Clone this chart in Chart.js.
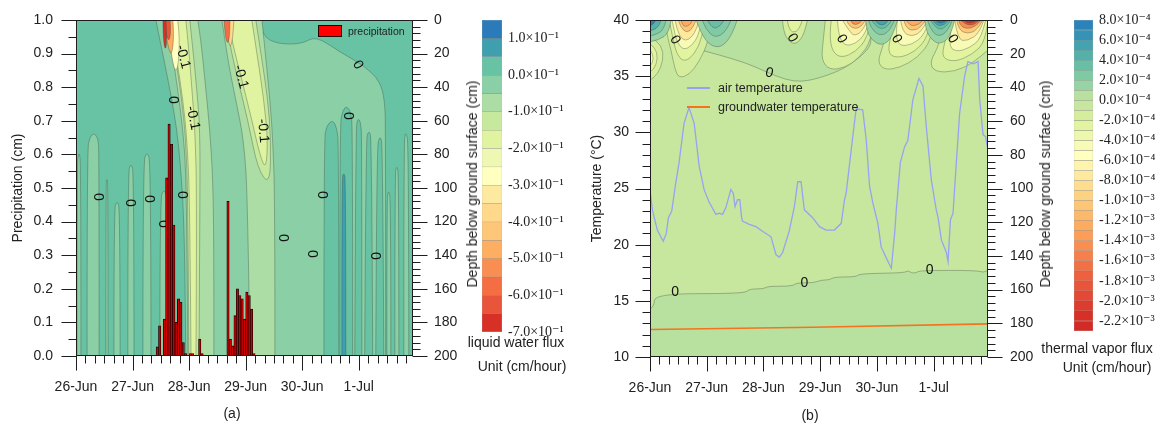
<!DOCTYPE html>
<html>
<head>
<meta charset="utf-8">
<title>Liquid water and thermal vapor flux</title>
<script src="https://cdn.jsdelivr.net/npm/chart.js@4.4.1/dist/chart.umd.min.js"></script>
<style>
  body { margin: 0; background: #fff; }
  #fig { position: relative; width: 1164px; height: 423px; overflow: hidden;
         font-family: 'Liberation Sans', Arial, sans-serif; color: #222; }
  #fig canvas { position: absolute; top: 0; }
  .t { position: absolute; white-space: nowrap; font-size: 14px; line-height: 16px;
       transform: translate(-50%, -50%); }
  .v { transform: translate(-50%, -50%) rotate(-90deg); }
  .key { position: absolute; }
  .lab { position: absolute; white-space: nowrap; line-height: 14px; transform: translateY(-50%); }
</style>
</head>
<body>
<div id="fig">
  <canvas id="panelA" width="470" height="423" style="left:0"></canvas>
  <canvas id="barA" width="110" height="423" style="left:470px"></canvas>
  <canvas id="panelB" width="460" height="423" style="left:580px"></canvas>
  <canvas id="barB" width="100" height="423" style="left:1064px"></canvas>

  <div class="t v" style="left:472px;top:184px">Depth below ground surface (cm)</div>
  <div class="t v" style="left:1045px;top:184px">Depth below ground surface (cm)</div>
  <div class="t" style="left:516px;top:342px">liquid water flux</div>
  <div class="t" style="left:522px;top:366px">Unit (cm/hour)</div>
  <div class="t" style="left:1097px;top:348px">thermal vapor flux</div>
  <div class="t" style="left:1107px;top:367px">Unit (cm/hour)</div>
  <div class="t" style="left:232px;top:413px">(a)</div>
  <div class="t" style="left:810px;top:415px">(b)</div>

  <div class="key" style="left:318px;top:25px;width:22px;height:10px;background:#f00;border:1px solid #2a0000"></div>
  <div class="lab" style="left:348px;top:31px;font-size:10.5px">precipitation</div>
  <div class="key" style="left:687px;top:87px;width:23px;height:1.5px;background:#97a3f2"></div>
  <div class="lab" style="left:718px;top:88px;font-size:12.5px">air temperature</div>
  <div class="key" style="left:687px;top:106px;width:23px;height:1.5px;background:#f5731c"></div>
  <div class="lab" style="left:718px;top:107px;font-size:12.5px">groundwater temperature</div>
</div>

<script>
  // ---- time axis (hours since 26-Jun 00:00) ----
  const dayLabels = ["26-Jun", "27-Jun", "28-Jun", "29-Jun", "30-Jun", "1-Jul"];

  // ---- hourly precipitation (cm) ----
  const rainHours = [34, 35, 37, 38, 39, 40, 41, 42, 43, 44, 45, 46, 48, 49, 52, 53,
                     64, 65, 66, 67, 68, 69, 70, 71, 72, 73, 74, 75];
  const rainDepth = [0.027, 0.09, 0.11, 0.53, 0.69, 0.63, 0.39, 0.10, 0.17, 0.16, 0.04, 0.007, 0.007, 0.007, 0.05, 0.007,
                     0.46, 0.05, 0.03, 0.12, 0.20, 0.18, 0.17, 0.11, 0.19, 0.18, 0.14, 0.007];

  // ---- air temperature (°C) ----
  const airHours = [0, 1.0, 3.1, 5.6, 6.9, 7.8, 9.2, 10.9, 12.3, 14.4, 16.5, 18.7, 20.8, 22.9, 25.0, 27.9,
    29.3, 30.7, 32.1, 34.2, 35.2, 36.0, 37.0, 38.0, 38.7, 39.1, 42.0, 44.8, 47.6, 51.2, 53.3, 54.7,
    56.1, 58.9, 61.1, 62.5, 63.9, 65.3, 68.8, 71.7, 74.5, 78.0, 80.9, 82.3, 83.0, 85.1, 87.2, 90.0,
    91.5, 92.9, 94.3, 96.4, 97.8, 100.0, 102.1, 103.5, 104.2, 105.9, 107.7, 109.1, 111.2, 113.8, 115.5,
    116.9, 119.0, 121.1, 121.8, 123.3, 125.4, 126.1, 127.1, 128.2, 129.6, 131.0, 133.1, 134.5, 136.7,
    138.8, 139.5, 140.9, 142.0, 143.0];
  const airTemp = [24.9, 23.1, 21.3, 20.3, 21.0, 22.4, 23.0, 25.5, 27.3, 30.8, 32.2, 30.8, 27.0, 24.9, 23.8, 22.7,
    22.8, 22.7, 23.3, 24.9, 24.6, 23.4, 24.0, 24.0, 22.5, 22.1, 21.8, 21.6, 21.2, 20.7, 19.1, 18.9,
    19.3, 21.2, 23.4, 25.6, 25.6, 23.1, 22.4, 21.6, 21.3, 21.3, 21.9, 24.0, 24.6, 28.4, 32.1, 32.0,
    29.3, 25.2, 23.7, 21.9, 19.8, 18.8, 17.9, 21.0, 23.1, 27.3, 28.7, 29.3, 32.9, 34.8, 34.1,
    30.5, 25.8, 23.1, 22.5, 20.4, 19.3, 18.5, 22.2, 22.8, 27.3, 31.7, 35.0, 36.3, 36.1,
    36.3, 32.9, 29.8, 29.6, 28.4];

  // ---- groundwater temperature (°C) ----
  const groundHours = [0, 69, 143];
  const groundTemp = [12.45, 12.65, 12.95];

  // ---- colour scales: lower bound of each band, top to bottom ----
  const fluxLevels = [0.1, 0.05, 0, -0.05, -0.1, -0.15, -0.2, -0.25, -0.3, -0.35, -0.4, -0.45, -0.5, -0.55, -0.6, -0.65, -0.7];
  const fluxTicks = [0.1, 0, -0.1, -0.2, -0.3, -0.4, -0.5, -0.6, -0.7];
  const vaporLevels = [7e-4, 6e-4, 5e-4, 4e-4, 3e-4, 2e-4, 1e-4, 0,
    -1e-4, -2e-4, -3e-4, -4e-4, -5e-4, -6e-4, -7e-4, -8e-4, -9e-4, -10e-4, -11e-4, -12e-4,
    -13e-4, -14e-4, -15e-4, -16e-4, -17e-4, -18e-4, -19e-4, -20e-4, -21e-4, -22e-4, -23e-4];
  const vaporTicks = [8e-4, 6e-4, 4e-4, 2e-4, 0, -2e-4, -4e-4, -6e-4, -8e-4,
    -1.0e-3, -1.2e-3, -1.4e-3, -1.6e-3, -1.8e-3, -2.0e-3, -2.2e-3];

  // liquid water flux bands: [flux level, outline as [hour, depth cm]]
  const fluxBands = [
    [-0.05, [[33.9,0],[78.0,0],[78.9,9.5],[85.6,14.3],[95.8,14.3],[101.8,9.5],[111.9,19.0],[122.5,27.4],[128.9,36.3],[131.0,47.6],[131.4,65.5],[131.4,200],[46.6,200],[46.2,142.8],[45.4,107.1],[44.1,83.3],[42.8,65.5],[40.7,47.6],[38.2,29.8],[35.6,11.9]]],
    [0, [[105.2,200],[105.2,71.4],[106.4,62.5],[109.0,59.5],[110.7,64.3],[111.5,74.4],[111.5,200]]],
    [0, [[111.9,200],[111.9,62.5],[113.2,53.6],[114.9,51.2],[116.6,54.7],[117.4,65.5],[117.4,200]]],
    [0, [[118.3,200],[118.7,65.5],[119.6,58.3],[120.8,60.7],[121.3,71.4],[121.3,200]]],
    [0, [[122.5,200],[123.0,71.4],[124.2,65.5],[125.5,70.2],[125.9,200]]],
    [0, [[127.2,200],[127.6,77.4],[128.9,68.4],[130.2,74.4],[130.6,200]]],
    [0.05, [[112.8,200],[112.8,95.2],[113.6,90.4],[114.5,95.2],[114.5,200]]],
    [-0.05, [[0.4,200],[0.4,86.9],[1.3,77.4],[2.1,86.9],[2.1,200]]],
    [-0.05, [[4.7,200],[4.7,77.4],[5.9,69.6],[7.6,67.2],[9.3,70.2],[9.8,77.4],[9.8,200]]],
    [-0.05, [[12.7,200],[12.7,98.2],[13.1,94.0],[13.6,98.2],[13.6,200]]],
    [-0.05, [[16.1,200],[16.1,113.1],[17.4,107.1],[18.7,113.1],[18.7,200]]],
    [-0.05, [[22.0,200],[22.0,92.2],[23.3,84.5],[24.6,92.2],[24.6,200]]],
    [-0.05, [[28.4,200],[28.4,86.3],[30.1,77.4],[31.8,86.3],[31.8,200]]],
    [-0.05, [[35.6,200],[35.6,107.1],[37.3,100.0],[39.0,107.1],[39.0,200]]],
    [-0.05, [[131.9,200],[131.9,107.0],[132.6,101.0],[133.6,107.0],[133.6,200]]],
    [-0.05, [[135.3,200],[135.3,92.2],[136.1,86.3],[137.0,92.2],[137.0,200]]],
    [-0.05, [[139.1,200],[139.1,74.4],[139.9,65.5],[141.2,74.4],[141.2,200]]],
    // first infiltration front
    [-0.1, [[38.2,0],[51.7,0],[53.0,11.9],[54.7,35.7],[56.8,65.5],[58.1,95.2],[58.5,136.9],[58.5,200],[47.5,200],[47.1,136.9],[46.6,89.3],[45.4,65.5],[43.2,41.7],[40.7,17.9]]],
    [-0.15, [[39.0,0],[48.3,0],[49.6,17.9],[51.3,41.7],[52.6,65.5],[52.6,107.1],[52.2,200],[47.9,200],[47.5,107.1],[46.6,71.4],[44.9,47.6],[42.4,23.8],[39.9,8.9]]],
    [-0.2, [[39.9,0],[46.6,0],[47.9,17.9],[49.2,41.7],[50.5,65.5],[51.3,107.1],[50.9,200],[48.8,200],[48.3,107.1],[47.1,71.4],[45.4,47.6],[42.8,23.8],[40.7,8.9]]],
    [-0.3, [[38.2,0],[43.2,0],[44.1,11.9],[43.2,29.8],[41.6,29.8],[39.9,14.9],[38.6,6.0]]],
    [-0.5, [[37.7,0],[41.1,0],[41.6,8.9],[40.7,20.8],[39.4,17.9],[38.2,8.9]]],
    [-0.65, [[37.3,0],[39.9,0],[40.3,7.1],[39.4,13.1],[38.2,8.3]]],
    [-0.7, [[36.9,0],[38.2,0],[38.6,14.9],[37.7,17.9],[36.9,8.9]]],
    // second infiltration front
    [-0.1, [[61.9,0],[78.9,0],[80.6,23.8],[82.3,47.6],[83.5,71.4],[84.4,107.1],[84.4,200],[73.8,200],[72.9,107.1],[71.2,71.4],[67.8,47.6],[64.4,23.8]]],
    [-0.15, [[63.6,0],[76.3,0],[78.9,23.8],[81.4,47.6],[82.7,71.4],[82.3,98.2],[77.2,89.3],[72.9,59.5],[68.7,35.7],[65.3,14.9]]],
    [-0.2, [[64.4,0],[74.6,0],[77.2,23.8],[79.7,47.6],[81.4,71.4],[80.6,89.3],[78.0,80.3],[74.6,59.5],[70.4,35.7],[66.6,14.9]]],
    [-0.4, [[63.6,0],[67.0,0],[66.6,11.9],[64.9,17.9]]],
    [-0.6, [[62.8,0],[65.3,0],[65.3,8.9],[64.4,14.9],[63.2,8.9]]],
  ];

  // thermal vapor flux bands: [flux level, outline as [hour, depth cm]]
  const vaporBands = [
    [0, [[16.5,0],[92.9,0],[93.7,11.9],[92.9,16.0],[89.9,20.7],[84.4,26.7],[78.9,30.8],[71.7,34.4],[64.4,36.7],[57.7,35.6],[49.2,30.8],[40.7,25.5],[29.3,20.7],[16.5,16.0]]],
    [0, [[0,171.4],[1.7,170.3],[2.1,162.4],[39.9,162.4],[42.0,159.6],[48.3,159.6],[49.7,158.0],[60.3,158.0],[61.8,156.0],[69.5,156.0],[72.4,154.3],[75.9,154.3],[78.0,152.5],[87.2,152.5],[88.6,150.5],[107.7,150.1],[109.1,148.6],[110.5,150.1],[112.7,150.1],[114.1,148.6],[138.8,148.6],[140.9,150.1],[143,148.6],[143,200],[0,200]]],
    [-2e-4, [[0,10.7],[3.0,11.9],[5.9,19.0],[4.7,28.4],[1.7,34.4],[0,35.6]]],
    [-3e-4, [[0,14.2],[2.1,16.0],[3.4,22.5],[1.7,29.6],[0,30.8]]],
    [-5e-4, [[0,17.8],[1.3,20.1],[1.3,25.5],[0,27.3]]],
    [-2e-4, [[6.4,0],[25.9,0],[25.0,11.9],[20.8,24.9],[16.5,32.6],[12.3,34.4],[10.6,29.6],[8.9,17.8],[7.2,8.9]]],
    [-3e-4, [[8.1,0],[23.3,0],[22.0,10.7],[18.7,20.7],[14.4,24.9],[11.4,20.7],[9.8,11.9]]],
    [-5e-4, [[9.3,0],[22.0,0],[20.8,8.3],[17.8,15.4],[14.0,17.8],[11.4,13.0],[10.2,5.9]]],
    [-8e-4, [[10.6,0],[20.8,0],[19.5,6.5],[16.5,11.9],[13.6,11.9],[11.4,5.9]]],
    [-11e-4, [[11.9,0],[19.5,0],[18.2,4.7],[15.7,7.7],[13.1,4.7]]],
    [-13e-4, [[13.1,0],[18.2,0],[17.0,3.0],[14.8,4.1],[13.6,2.4]]],
    [-2e-4, [[56.0,0],[66.6,0],[65.3,8.9],[61.5,14.8],[58.1,11.9],[56.4,5.9]]],
    [-3e-4, [[58.1,0],[64.4,0],[63.2,5.9],[60.2,7.7],[58.5,4.1]]],
    [-2e-4, [[74.2,0],[95.0,0],[93.7,11.9],[88.6,22.5],[82.3,28.4],[75.9,29.6],[72.5,23.7],[73.3,11.9]]],
    [-3e-4, [[76.7,0],[93.7,0],[92.0,10.7],[86.9,19.0],[81.0,22.5],[77.2,19.0],[75.9,8.9]]],
    [-5e-4, [[79.3,0],[92.9,0],[91.2,8.3],[86.9,14.2],[82.3,15.4],[79.7,8.9]]],
    [-8e-4, [[81.4,0],[92.0,0],[90.3,5.9],[86.9,9.5],[84.8,7.7]]],
    [-11e-4, [[83.1,0],[91.2,0],[89.5,4.1],[86.5,5.3],[83.9,3.0]]],
    [-15e-4, [[84.8,0],[89.9,0],[88.6,2.4],[85.6,3.0]]],
    [-2e-4, [[101.3,0],[120.4,0],[119.1,11.9],[113.2,22.5],[105.5,28.4],[99.2,29.6],[96.2,24.9],[98.8,14.8]]],
    [-3e-4, [[103.5,0],[119.1,0],[117.4,10.7],[111.9,19.0],[105.5,22.5],[100.9,20.7],[101.3,11.9]]],
    [-5e-4, [[104.7,0],[118.3,0],[116.2,8.9],[110.7,14.8],[105.5,15.4],[103.9,8.9]]],
    [-8e-4, [[106.0,0],[117.4,0],[115.3,6.5],[110.7,10.1],[106.8,7.1]]],
    [-11e-4, [[107.3,0],[116.6,0],[114.5,4.7],[110.7,6.5],[108.1,4.1]]],
    [-13e-4, [[108.5,0],[115.8,0],[113.6,3.0],[109.8,3.6]]],
    [-2e-4, [[124.7,0],[143,0],[143,17.8],[137.4,24.9],[128.9,30.8],[120.4,30.8],[118.3,24.9],[122.5,14.8]]],
    [-3e-4, [[126.8,0],[143,0],[142.0,13.0],[136.1,20.7],[128.9,24.9],[123.4,22.5],[124.7,13.0]]],
    [-5e-4, [[128.0,0],[142.0,0],[140.3,10.7],[135.3,16.6],[129.4,19.0],[126.0,14.8]]],
    [-8e-4, [[128.9,0],[141.2,0],[139.5,7.7],[134.4,12.4],[130.2,11.9]]],
    [-11e-4, [[129.7,0],[140.8,0],[138.6,5.9],[134.4,8.3],[130.6,5.9]]],
    [-15e-4, [[130.6,0],[140.3,0],[137.8,4.1],[133.6,5.3],[131.0,3.0]]],
    [-19e-4, [[131.4,0],[139.5,0],[137.4,3.0],[133.6,3.0]]],
    [-22e-4, [[132.7,0],[138.6,0],[136.5,1.8],[134.0,1.8]]],
    [1e-4, [[0,0],[8.9,0],[8.1,7.7],[3.8,11.9],[0,13.0]]],
    [2e-4, [[0,0],[6.8,0],[5.9,5.9],[2.1,8.9],[0,9.5]]],
    [4e-4, [[0,0],[4.7,0],[3.8,4.1],[1.3,5.9],[0,6.5]]],
    [7e-4, [[0,0],[2.5,0],[1.7,2.4],[0,3.6]]],
    [1e-4, [[19.5,0],[36.9,0],[34.8,8.9],[30.1,16.6],[25.0,14.8],[21.6,7.7]]],
    [2e-4, [[22.0,0],[34.3,0],[32.2,7.1],[27.6,10.7],[23.7,5.9]]],
    [3e-4, [[24.2,0],[31.4,0],[29.7,4.1],[26.3,5.3]]],
    [1e-4, [[91.2,0],[104.7,0],[102.6,10.7],[98.0,15.4],[93.7,11.9],[91.6,5.9]]],
    [2e-4, [[92.4,0],[103.5,0],[101.3,7.1],[97.1,9.5],[93.3,4.7]]],
    [3e-4, [[93.7,0],[102.2,0],[100.5,4.7],[96.2,5.3]]],
    [5e-4, [[95.0,0],[100.9,0],[99.6,3.0],[96.7,3.0]]],
    [1e-4, [[116.2,0],[128.9,0],[127.2,10.1],[122.5,14.8],[118.3,10.7],[116.6,4.7]]],
    [2e-4, [[117.4,0],[128.0,0],[125.9,7.1],[121.7,10.1],[118.3,4.7]]],
    [3e-4, [[118.7,0],[127.2,0],[125.1,4.7],[121.3,5.9]]],
    [5e-4, [[119.6,0],[126.4,0],[124.7,3.0],[121.3,3.6]]],
    [7e-4, [[120.8,0],[125.5,0],[124.2,1.8],[121.7,1.8]]],
  ];

  // contour labels: [hour, depth, text, rotation in degrees]
  const fluxLabels = [[45.4,22.0,"-0.1",75],[70.0,33.9,"-0.1",75],[41.1,47.6,"0",90],[49.6,58.3,"-0.1",78],
    [79.3,66.0,"-0.1",85],[119.6,26.8,"0",60],[115.3,57.1,"0",90],[9.3,105.3,"0",90],[22.9,108.9,"0",90],
    [31.0,106.5,"0",90],[36.9,121.4,"0",90],[44.9,104.1,"0",90],[104.3,104.1,"0",90],[87.8,129.7,"0",90],
    [100.1,139.2,"0",90],[126.8,140.4,"0",90]];
  const vaporLabels = [[10.6,11.9,"0",60],[60.2,10.7,"0",60],[81.0,11.3,"0",60],[104.3,11.3,"0",60],
    [128.0,11.3,"0",60],[50.5,31.4,"0",15],[10.6,161.8,"0",0],[65.3,155.9,"0",0],[118.3,148.2,"0",0]];

  const fluxColors = ["#2b7bba", "#3f9fae", "#68c3a4", "#8acfa5", "#abdda4", "#c7e99e", "#e0f3a0", "#eff8b3", "#ffffbf",
    "#fee9a0", "#fed98b", "#fdc678", "#fdae61", "#f98e52", "#f46d43", "#e8553b", "#d73027"];
  const vaporColors = ["#2b83ba", "#3793b5", "#45a2b0", "#56b0aa", "#69bea6", "#80c9a5", "#97d3a4", "#b8e1a0",
    "#c6e79d", "#d5ee9d", "#e3f4a0", "#eef8ac", "#f7fbb6", "#ffffbf", "#fff4ab", "#fee99c", "#fedd8e", "#fed283",
    "#fdc677", "#fdb96b", "#fdab60", "#fc9d58", "#f98e52", "#f67f4b", "#f37045", "#ed6040", "#e8553b", "#e24936",
    "#dc3d2f", "#d73027", "#d02b26"];

  const SANS = "'Liberation Sans', Arial, sans-serif";
  const SERIF = "'Liberation Serif', 'DejaVu Serif', serif";
  Chart.defaults.font.family = SANS;
  Chart.defaults.font.size = 14;
  Chart.defaults.color = "#222";

  const SUP = { "-": "\u207B", "1": "\u00B9", "3": "\u00B3", "4": "\u2074" };
  const sciLabel = (v, zeroExp) => {
    const exp = v === 0 ? zeroExp : Math.floor(Math.log10(Math.abs(v)) + 1e-9);
    const mant = (v / Math.pow(10, exp)).toFixed(1);
    return mant + "\u00D710" + String(exp).split("").map((c) => SUP[c]).join("");
  };

  // tick padding would otherwise push the plot area inwards
  const noLabelMargins = (s) => {
    s.paddingTop = 0; s.paddingBottom = 0; s.paddingLeft = 0; s.paddingRight = 0;
  };

  // closed outline, corners rounded except where it runs along the plot edge
  const tracePolygon = (ctx, P) => {
    const n = P.length;
    const mid = (p, q) => ({ x: (p.x + q.x) / 2, y: (p.y + q.y) / 2 });
    ctx.beginPath();
    const s = P.findIndex((p) => p.sharp);
    if (s < 0) {
      const m = mid(P[n - 1], P[0]);
      ctx.moveTo(m.x, m.y);
      for (let i = 0; i < n; i++) {
        const c = P[i], e = mid(c, P[(i + 1) % n]);
        ctx.quadraticCurveTo(c.x, c.y, e.x, e.y);
      }
    } else {
      ctx.moveTo(P[s].x, P[s].y);
      for (let k = 1; k <= n; k++) {
        const c = P[(s + k) % n], nx = P[(s + k + 1) % n];
        if (c.sharp) { ctx.lineTo(c.x, c.y); continue; }
        const e = nx.sharp ? nx : mid(c, nx);
        ctx.quadraticCurveTo(c.x, c.y, e.x, e.y);
      }
    }
    ctx.closePath();
  };

  // filled contour field drawn on the x / depth scales
  const contourLayer = (bands, baseLevel, levels, colors, step, labels) => {
    const colorOf = (lv) => colors[levels.findIndex((l) => Math.abs(l - lv) < step / 10)];
    return {
      id: "contourLayer",
      beforeDatasetsDraw(chart) {
        const { ctx, chartArea: a, scales: { x, depth } } = chart;
        ctx.save();
        ctx.beginPath();
        ctx.rect(a.left, a.top, a.width, a.height);
        ctx.clip();
        ctx.fillStyle = colorOf(baseLevel);
        ctx.fillRect(a.left, a.top, a.width, a.height);
        ctx.lineWidth = 0.7;
        ctx.strokeStyle = "rgba(55,70,60,0.5)";
        bands.forEach(([lv, pts]) => {
          const P = pts.map(([h, d]) => ({
            x: x.getPixelForValue(h),
            y: depth.getPixelForValue(d),
            sharp: h <= x.min || h >= x.max || d <= depth.min || d >= depth.max,
          }));
          tracePolygon(ctx, P);
          ctx.fillStyle = colorOf(lv);
          ctx.fill();
          ctx.stroke();
        });
        ctx.fillStyle = "#111";
        ctx.font = "14px " + SANS;
        ctx.textAlign = "center";
        ctx.textBaseline = "middle";
        labels.forEach(([h, d, text, angle]) => {
          ctx.save();
          ctx.translate(x.getPixelForValue(h), depth.getPixelForValue(d));
          ctx.rotate((angle * Math.PI) / 180);
          ctx.fillText(text, 0, 0);
          ctx.restore();
        });
        ctx.restore();
      },
    };
  };

  // plot frame plus outward major / minor tick marks
  const axisFrame = (axes) => ({
    id: "axisFrame",
    afterDraw(chart) {
      const { ctx, chartArea: a } = chart;
      const L = Math.round(a.left) + 0.5, R = Math.round(a.right) - 0.5;
      const T = Math.round(a.top) + 0.5, B = Math.round(a.bottom) - 0.5;
      ctx.save();
      ctx.strokeStyle = "#1e1e1e";
      ctx.lineWidth = 1;
      ctx.strokeRect(L, T, R - L, B - T);
      ctx.beginPath();
      axes.forEach(([id, major, minor]) => {
        const s = chart.scales[id];
        const n = Math.floor((s.max - s.min) / minor + 1e-9);
        for (let k = 0; k <= n; k++) {
          const v = s.min + k * minor;
          const r = v / major;
          const len = Math.abs(r - Math.round(r)) < 1e-6 ? 15 : 8;
          const p = Math.round(s.getPixelForValue(v)) + 0.5;
          if (s.position === "bottom") { ctx.moveTo(p, B); ctx.lineTo(p, B + len); }
          else if (s.position === "left") { ctx.moveTo(L, p); ctx.lineTo(L - len, p); }
          else { ctx.moveTo(R, p); ctx.lineTo(R + len, p); }
        }
      });
      ctx.stroke();
      ctx.restore();
    },
  });

  const timeAxis = (height) => ({
    type: "linear", position: "bottom", min: 0, max: 143, offset: false,
    ticks: { stepSize: 24, includeBounds: false, padding: 23, maxRotation: 0,
             callback: (v) => dayLabels[Math.round(v / 24)] },
    grid: { display: false, drawTicks: false },
    border: { display: false },
    afterFit: (s) => { s.height = height; noLabelMargins(s); },
  });

  const depthAxis = (width, padding) => ({
    type: "linear", position: "right", min: 0, max: 200, reverse: true,
    ticks: { stepSize: 20, padding },
    grid: { display: false, drawTicks: false },
    border: { display: false },
    afterFit: (s) => { s.width = width; noLabelMargins(s); },
  });

  const baseOptions = {
    responsive: false,
    animation: false,
    events: [],
    layout: { padding: { top: 20 } },
    plugins: { legend: { display: false }, tooltip: { enabled: false } },
  };

  // (a) precipitation over liquid water flux
  new Chart(document.getElementById("panelA"), {
    type: "bar",
    data: {
      datasets: [{
        label: "precipitation",
        data: rainHours.map((h, i) => ({ x: h + 0.5, y: rainDepth[i] })),
        yAxisID: "precip",
        backgroundColor: "#d40000",
        borderColor: "#220000",
        borderWidth: 0.8,
        barPercentage: 1,
        categoryPercentage: 1,
      }],
    },
    options: {
      ...baseOptions,
      scales: {
        x: timeAxis(67),
        precip: {
          type: "linear", position: "left", min: 0, max: 1,
          ticks: { stepSize: 0.1, padding: 23, callback: (v) => v.toFixed(1) },
          grid: { display: false, drawTicks: false },
          border: { display: false },
          title: { display: true, text: "Precipitation (cm)", padding: { top: 10, bottom: 0 } },
          afterFit: (s) => { s.width = 76; noLabelMargins(s); },
        },
        depth: depthAxis(57, 21),
      },
    },
    plugins: [
      contourLayer(fluxBands, 0, fluxLevels, fluxColors, 0.05, fluxLabels),
      axisFrame([["x", 24, 4], ["precip", 0.1, 0.05], ["depth", 20, 4]]),
    ],
  });

  // (b) air / groundwater temperature over thermal vapor flux
  new Chart(document.getElementById("panelB"), {
    type: "line",
    data: {
      datasets: [
        {
          label: "air temperature",
          data: airHours.map((h, i) => ({ x: h, y: airTemp[i] })),
          yAxisID: "temp",
          borderColor: "#97a3f2",
          borderWidth: 1.3,
          pointRadius: 0,
          tension: 0,
        },
        {
          label: "groundwater temperature",
          data: groundHours.map((h, i) => ({ x: h, y: groundTemp[i] })),
          yAxisID: "temp",
          borderColor: "#f5731c",
          borderWidth: 1.6,
          pointRadius: 0,
        },
      ],
    },
    options: {
      ...baseOptions,
      scales: {
        x: timeAxis(66),
        temp: {
          type: "linear", position: "left", min: 10, max: 40,
          ticks: { stepSize: 5, padding: 21 },
          grid: { display: false, drawTicks: false },
          border: { display: false },
          title: { display: true, text: "Temperature (°C)", padding: { top: 9, bottom: 0 } },
          afterFit: (s) => { s.width = 70; noLabelMargins(s); },
        },
        depth: depthAxis(52, 22),
      },
    },
    plugins: [
      contourLayer(vaporBands, -1e-4, vaporLevels, vaporColors, 1e-4, vaporLabels),
      axisFrame([["x", 24, 4], ["temp", 5, 1], ["depth", 20, 4]]),
    ],
  });

  // colour bars as stacked floating bars
  const colorBar = (id, levels, step, colors, tickValues, zeroExp, padLeft, axisWidth, padBottom) => {
    new Chart(document.getElementById(id), {
      type: "bar",
      data: {
        labels: [""],
        datasets: levels.map((lv, i) => ({
          data: [[lv, lv + step]],
          backgroundColor: colors[i],
          borderColor: "rgba(70,70,70,0.45)",
          borderWidth: 0.5,
          borderSkipped: false,
          barPercentage: 1,
          categoryPercentage: 1,
        })),
      },
      options: {
        responsive: false,
        animation: false,
        events: [],
        layout: { padding: { left: padLeft, top: 20, bottom: padBottom, right: 0 } },
        plugins: { legend: { display: false }, tooltip: { enabled: false } },
        scales: {
          x: { display: false, stacked: true },
          y: {
            position: "right",
            min: levels[levels.length - 1],
            max: levels[0] + step,
            afterBuildTicks: (s) => { s.ticks = tickValues.map((value) => ({ value })); },
            afterFit: (s) => { s.width = axisWidth; noLabelMargins(s); },
            ticks: { callback: (v) => sciLabel(v, zeroExp), font: { family: SERIF, size: 14 }, color: "#222", padding: 6 },
            grid: { display: false, drawTicks: false },
            border: { display: false },
          },
        },
      },
    });
  };

  colorBar("barA", fluxLevels, 0.05, fluxColors, fluxTicks, -1, 12, 78, 91);
  colorBar("barB", vaporLevels, 1e-4, vaporColors, vaporTicks, -4, 10, 71, 92);
</script>
</body>
</html>
